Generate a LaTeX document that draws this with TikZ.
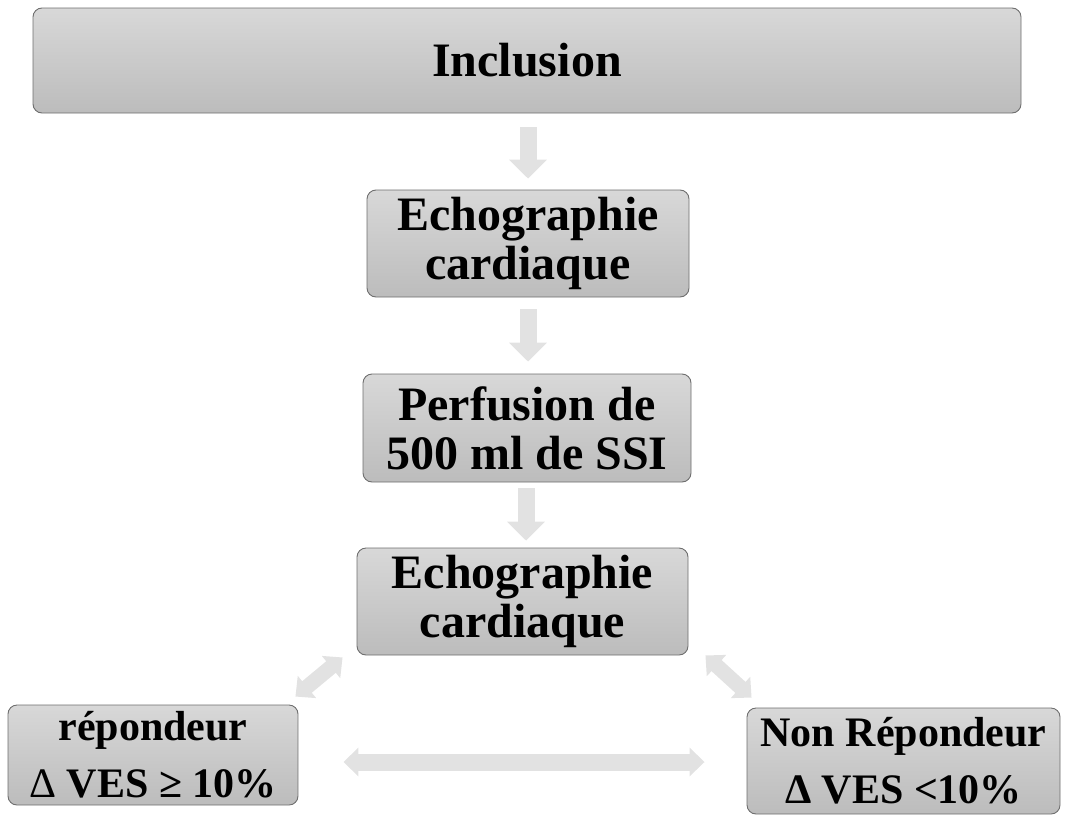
\documentclass[tikz,border=0pt]{standalone}
\usepackage{fontspec}
\setmainfont{Liberation Serif}
\usetikzlibrary{arrows.meta,calc}
\definecolor{boxtop}{RGB}{216,216,216}
\definecolor{boxbot}{RGB}{188,188,188}
\definecolor{boxline}{RGB}{110,110,110}
\definecolor{arrowfill}{RGB}{226,226,226}
\tikzset{
  flowbox/.style={draw=boxline, line width=0.9pt, rounded corners=9pt,
    top color=boxtop, bottom color=boxbot, align=center, inner sep=0pt,
    font=\fontsize{48}{49}\selectfont\bfseries},
  smallbox/.style={flowbox, font=\fontsize{42}{57}\selectfont\bfseries},
  downarrow/.style={draw=arrowfill, line width=17pt,
    -{Triangle[width=37pt,length=19pt]}},
  twoway/.style={draw=arrowfill, line width=15pt,
    {Triangle[width=28pt,length=15pt]}-{Triangle[width=28pt,length=15pt]}}
}
\begin{document}
\begin{tikzpicture}[x=1pt,y=-1pt]
\useasboundingbox (0,0) rectangle (1068,814);
\begin{scope}
\clip (0,0) rectangle (1068,814);
\node[flowbox, minimum width=988pt, minimum height=105pt] (inc) at (527,60.5) {Inclusion};
\node[flowbox, minimum width=322pt, minimum height=107pt] (e1) at (528,243.5) {Echographie\\cardiaque};
\node[flowbox, minimum width=328pt, minimum height=108pt] (perf) at (527,428) {Perfusion de\\500 ml de SSI};
\node[flowbox, minimum width=331pt, minimum height=107pt] (e2) at (522.5,601.5) {Echographie\\cardiaque};
\node[smallbox, minimum width=290pt, minimum height=100pt] (lb) at (153,755) {répondeur\\{\mdseries Δ} VES ≥ 10\%};
\node[smallbox, minimum width=313pt, minimum height=106pt] (rb) at (903.5,761) {Non Répondeur\\Δ VES <10\%};

\draw[downarrow, shorten <=14pt, shorten >=11pt] (inc.south -| e1.north) -- (e1.north);
\draw[downarrow, shorten <=12pt, shorten >=12pt] (e1.south) -- (e1.south |- perf.north);
\draw[downarrow, shorten <=6pt, shorten >=7pt] (perf.south) ++(-1,0) coordinate (p3) -- (p3 |- e2.north);

\draw[twoway] ($(e2.south west)+(-14,2)$) -- ($(lb.north east)+(-3,-8)$);
\draw[twoway] ($(e2.south east)+(17,0)$) -- ($(rb.north west)+(5,-10)$);
\draw[twoway, line width=17pt] ($(lb.east)+(45,7)$) -- ($(rb.west)+(-42,1)$);
\end{scope}
\end{tikzpicture}
\end{document}
